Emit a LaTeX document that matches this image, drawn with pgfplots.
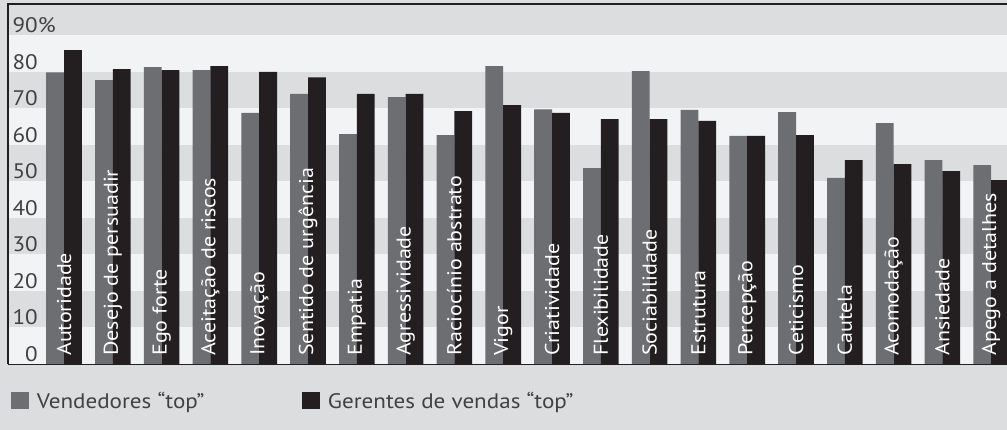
\documentclass[border=0pt]{standalone}
\usepackage{fontspec}
\setmainfont{PT Sans}[FakeStretch=1.1]
\usepackage{pgfplots}
\pgfplotsset{compat=1.18}
\definecolor{bgdark}{HTML}{DCDDDF}
\definecolor{bglight}{HTML}{F2F3F5}
\definecolor{bargray}{HTML}{6D6E71}
\definecolor{barblack}{HTML}{231F20}
\definecolor{txt}{HTML}{414042}
\newcommand{\lblfont}{\fontsize{20}{24}\selectfont}
\newcommand{\tickfont}{\fontsize{21}{25}\selectfont}
\tikzset{
  ylab/.style={anchor=base east, inner sep=0pt, text=txt, font=\tickfont, yshift=2.5pt},
  cat/.style={rotate=90, anchor=west, inner sep=0pt, text=white, font=\lblfont},
}
\begin{document}
\begin{tikzpicture}[x=1pt,y=1pt]
\useasboundingbox (0,0) rectangle (1007,430);
\clip (0,0) rectangle (1007,430);
\fill[bgdark] (0,0) rectangle (1007,430);
\begin{axis}[
  at={(8pt,66pt)}, anchor=south west,
  scale only axis, width=999pt, height=360pt,
  xmin=-1.148, xmax=19.324, ymin=0, ymax=98.5,
  xtick=\empty, ytick=\empty,
  axis line style={draw=none},
  axis background/.style={fill=bgdark},
  clip=false,
  ybar=0pt, bar width=17.8pt,
  legend columns=2,
  legend style={at={(0,0)}, anchor=north west, xshift=3pt, yshift=-28pt,
    draw=none, fill=none, inner sep=0pt, outer sep=0pt,
    font=\tickfont, text=txt,
    cells={anchor=center},
    nodes={inner sep=0pt, outer sep=0pt},
    /tikz/every odd column/.append style={column sep=8pt}},
  legend image code/.code={\fill[#1] (0pt,-8.5pt) rectangle (18pt,8.5pt);},
]
% background bands
\fill[bglight] (axis cs:-1.148,0) rectangle (axis cs:19.324,10);
\fill[bglight] (axis cs:-1.148,20) rectangle (axis cs:19.324,30);
\fill[bglight] (axis cs:-1.148,40) rectangle (axis cs:19.324,50);
\fill[bglight] (axis cs:-1.148,60) rectangle (axis cs:19.324,70);
\fill[bglight] (axis cs:-1.148,80) rectangle (axis cs:19.324,90);
\draw[barblack, line width=0.8pt] (axis cs:-1.148,0) -- (axis cs:19.324,0);

\addplot[fill=bargray, draw=none] coordinates {
 (0,79.8) (1,77.7) (2,81.2) (3,80.4) (4,68.7) (5,73.9) (6,62.9) (7,73.0) (8,62.6) (9,81.5)
 (10,69.7) (11,53.6) (12,80.1) (13,69.5) (14,62.4) (15,68.9) (16,50.9) (17,65.9) (18,55.8) (19,54.4)};
\addlegendentry{\makebox[265pt][l]{Vendedores “top”}}
\addplot[fill=barblack, draw=none] coordinates {
 (0,85.9) (1,80.7) (2,80.4) (3,81.5) (4,79.9) (5,78.4) (6,73.9) (7,73.9) (8,69.2) (9,70.8)
 (10,68.7) (11,67.0) (12,67.0) (13,66.5) (14,62.4) (15,62.6) (16,55.8) (17,54.7) (18,52.8) (19,50.3)};
\addlegendentry{Gerentes de vendas “top”}

% frame
\draw[barblack, line width=1.5pt] (axis cs:-1.148,0) -- (axis cs:-1.148,98.5) -- (axis cs:19.324,98.5);

% y labels
\node[ylab] at (axis cs:-0.533,0) {0};
\node[ylab] at (axis cs:-0.533,10) {10};
\node[ylab] at (axis cs:-0.533,20) {20};
\node[ylab] at (axis cs:-0.533,30) {30};
\node[ylab] at (axis cs:-0.533,40) {40};
\node[ylab] at (axis cs:-0.533,50) {50};
\node[ylab] at (axis cs:-0.533,60) {60};
\node[ylab] at (axis cs:-0.533,70) {70};
\node[ylab] at (axis cs:-0.533,80) {80};
\node[ylab] at (axis cs:-0.533,90) {90\rlap{\%}};

% category labels
\node[cat] at (axis cs:0,2.2) {Autoridade};
\node[cat] at (axis cs:1,2.2) {Desejo de persuadir};
\node[cat] at (axis cs:2,2.2) {Ego forte};
\node[cat] at (axis cs:3,2.2) {Aceitação de riscos};
\node[cat] at (axis cs:4,2.2) {Inovação};
\node[cat] at (axis cs:5,2.2) {Sentido de urgência};
\node[cat] at (axis cs:6,2.2) {Empatia};
\node[cat] at (axis cs:7,2.2) {Agressividade};
\node[cat] at (axis cs:8,2.2) {Raciocínio abstrato};
\node[cat] at (axis cs:9,2.2) {Vigor};
\node[cat] at (axis cs:10,2.2) {Criatividade};
\node[cat] at (axis cs:11,2.2) {Flexibilidade};
\node[cat] at (axis cs:12,2.2) {Sociabilidade};
\node[cat] at (axis cs:13,2.2) {Estrutura};
\node[cat] at (axis cs:14,2.2) {Percepção};
\node[cat] at (axis cs:15,2.2) {Ceticismo};
\node[cat] at (axis cs:16,2.2) {Cautela};
\node[cat] at (axis cs:17,2.2) {Acomodação};
\node[cat] at (axis cs:18,2.2) {Ansiedade};
\node[cat] at (axis cs:19,2.2) {Apego a detalhes};
\end{axis}
\end{tikzpicture}
\end{document}
